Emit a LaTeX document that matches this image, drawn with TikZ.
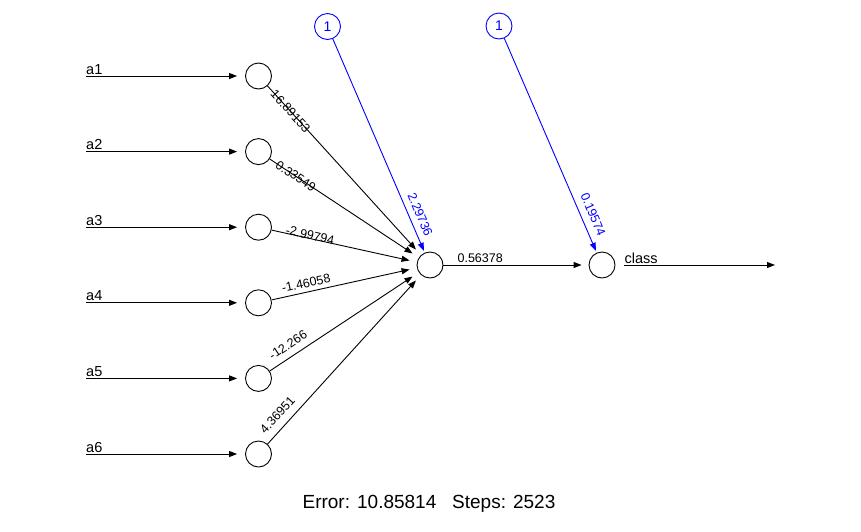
\documentclass[tikz,border=0pt]{standalone}
\usepackage{fontspec}
\setmainfont{Liberation Sans}
\usetikzlibrary{arrows.meta}
\definecolor{rblue}{RGB}{0,0,255}
\begin{document}
\begin{tikzpicture}[x=1pt,y=-1pt,
  neuron/.style={circle, draw, minimum size=26pt, inner sep=0pt, line width=0.9pt},
  biasnode/.style={neuron, draw=rblue, text=rblue, font=\fontsize{14}{14}\selectfont},
  conn/.style={line width=0.9pt, -{Triangle[length=8pt,width=6pt]}},
  biasconn/.style={conn, draw=rblue},
  wlabel/.style={sloped, inner sep=0pt, font=\fontsize{12.5}{12.5}\selectfont},
  inlabel/.style={anchor=base west, inner sep=0pt, font=\fontsize{14.5}{14.5}\selectfont},
]
\fill[white] (0,0) rectangle (861,531);
\useasboundingbox (0,0) rectangle (861,531);

% neurons
\node[neuron] (i1) at (258.5,76) {};
\node[neuron] (i2) at (258.5,151.6) {};
\node[neuron] (i3) at (258.5,227.2) {};
\node[neuron] (i4) at (258.5,302.8) {};
\node[neuron] (i5) at (258.5,378.4) {};
\node[neuron] (i6) at (258.5,454) {};
\node[neuron] (h) at (430,265) {};
\node[neuron] (o) at (602,265) {};
\node[biasnode] (b1) at (327.5,26.5) {1};
\node[biasnode] (b2) at (499,26) {1};

% inputs
\foreach \k/\y in {1/76,2/151.6,3/227.2,4/302.8,5/378.4,6/454}{
  \coordinate (s\k) at (86,\y);
  \draw[conn, shorten >=8pt] (s\k) -- (i\k);
  \node[inlabel] (l\k) at ([yshift=2pt]s\k) {a\k};
}

% input -> hidden
\draw[conn, shorten >=7.5pt] (i1) -- (h) node[wlabel, pos=0.150] (w1) {16.89153};
\draw[conn, shorten >=7.5pt] (i2) -- (h) node[wlabel, pos=0.175] (w2) {0.33549};
\draw[conn, shorten >=7.5pt] (i3) -- (h) node[wlabel, pos=0.26, above=-1.5pt] (w3) {-2.99794};
\draw[conn, shorten >=7.5pt] (i4) -- (h) node[wlabel, pos=0.25, above=4pt] (w4) {-1.46058};
\draw[conn, shorten >=7.5pt] (i5) -- (h) node[wlabel, pos=0.166, above=6.8pt] (w5) {-12.266};
\draw[conn, shorten >=7.5pt] (i6) -- (h) node[wlabel, pos=0.123, above=7.3pt] (w6) {4.36951};

% bias connections
\draw[biasconn, shorten >=2pt] (b1) -- (h) node[wlabel, text=rblue, pos=0.842, above=6pt] (wb1) {2.29736};
\draw[biasconn, shorten >=2pt] (b2) -- (o) node[wlabel, text=rblue, pos=0.844, above=7pt] (wb2) {0.19574};

% hidden -> output
\draw[conn, shorten >=7pt] (h) -- (o) node[wlabel, pos=0.253, above=2pt] (wh) {0.56378};

% output
\coordinate (oe) at (775,265);
\draw[conn] ([xshift=9pt]o.east) -- (oe);
\node[inlabel] (lc) at ([xshift=9pt,yshift=2pt]o.east) {class};

% caption
\node[anchor=base, inner sep=0pt, font=\fontsize{19}{19}\selectfont] (err) at (429,508) {Error: 10.85814\ \ \ Steps: 2523};
\end{tikzpicture}
\end{document}
